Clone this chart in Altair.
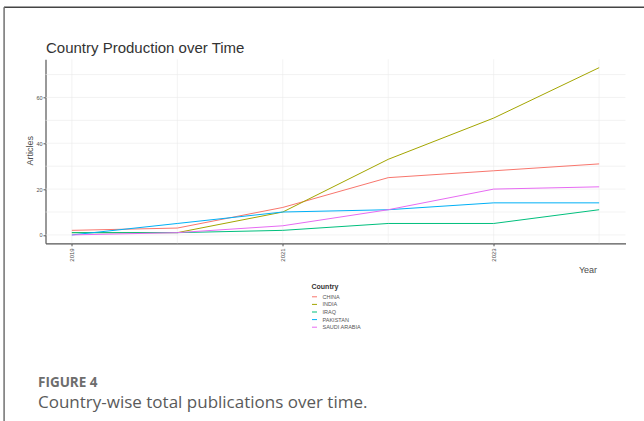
import altair as alt
import pandas as pd

# Articles per year for each country
years = [2019, 2020, 2021, 2022, 2023, 2024]
countries = ["CHINA", "INDIA", "IRAQ", "PAKISTAN", "SAUDI ARABIA"]
china = [2, 3, 12, 25, 28, 31]
india = [1, 1, 10, 33, 51, 73]
iraq = [1, 1, 2, 5, 5, 11]
pakistan = [0, 5, 10, 11, 14, 14]
saudi_arabia = [0, 1, 4, 11, 20, 21]
palette = ["#F8766D", "#A3A500", "#00BF7D", "#00B0F6", "#E76BF3"]

# grid positions (major + minor)
y_grid = [0, 10, 20, 30, 40, 50, 60, 70]
x_grid = [2019, 2020, 2021, 2022, 2023, 2024]
y_ticks = [0, 20, 40, 60]
x_ticks = [2019, 2021, 2023]

series = [china, india, iraq, pakistan, saudi_arabia]
rows = []
for name, vals in zip(countries, series):
    for yr, v in zip(years, vals):
        rows.append({"Year": yr, "Articles": v, "Country": name})
df = pd.DataFrame(rows)

W, H = 580, 184
PAD_L, PAD_T = 45.5, 59.3
x_scale = alt.Scale(domain=[2018.75, 2024.25], nice=False, zero=False)
y_scale = alt.Scale(domain=[-3.65, 76.65], nice=False, zero=False)
FONT = "Liberation Sans"

x_axis = alt.Axis(
    values=x_ticks, format="d", grid=False, labelAngle=270,
    labelFontSize=6, labelColor="#4d4d4d", labelFont=FONT,
    labelAlign="right", labelBaseline="middle", labelPadding=2,
    tickSize=2.5, tickColor="#555555", domainColor="#555555",
    domainWidth=1.2, title="Year", titleFont=FONT, titleFontSize=9,
    titleFontWeight="normal", titleColor="#4d4d4d",
    titleX=542, titleY=22, titleAlign="center",
)
y_axis = alt.Axis(
    values=y_ticks, grid=False, labelFontSize=5.5,
    labelColor="#4d4d4d", labelFont=FONT, labelPadding=1,
    tickSize=2.5, tickColor="#555555", domainColor="#555555",
    domainWidth=1.2, title="Articles", titleFont=FONT,
    titleFontSize=9, titleFontWeight="normal", titleColor="#4d4d4d",
    titleX=-11, titleY=91, titleAlign="center", titleBaseline="bottom",
)

hgrid = alt.Chart(pd.DataFrame({"Articles": y_grid})).mark_rule(
    color="#ebebeb", strokeWidth=0.6
).encode(y=alt.Y("Articles:Q", scale=y_scale, axis=y_axis))

vgrid = alt.Chart(pd.DataFrame({"Year": x_grid})).mark_rule(
    color="#ebebeb", strokeWidth=0.6
).encode(x=alt.X("Year:Q", scale=x_scale, axis=x_axis))

lines = alt.Chart(df).mark_line(strokeWidth=1).encode(
    x=alt.X("Year:Q", scale=x_scale, axis=x_axis),
    y=alt.Y("Articles:Q", scale=y_scale, axis=y_axis),
    color=alt.Color(
        "Country:N",
        scale=alt.Scale(domain=countries, range=palette),
        legend=alt.Legend(
            orient="none", legendX=266, legendY=224, title="Country",
            titleFont=FONT, titleFontSize=7, titleFontWeight="bold",
            titleColor="#333333", titlePadding=3.5,
            labelFont=FONT, labelFontSize=5.5, labelColor="#555555",
            labelOffset=5, symbolType="stroke", symbolSize=25,
            symbolStrokeWidth=1, rowPadding=0.6,
        ),
    ),
)

# chart title, caption and page frame
def label(text, x, y, size, color, weight="normal", font=FONT):
    return alt.Chart(pd.DataFrame({"t": [text]})).mark_text(
        align="left", baseline="alphabetic", fontSize=size, color=color,
        fontWeight=weight, font=font,
    ).encode(text="t:N", x=alt.value(x), y=alt.value(y))

title = label("Country Production over Time", 0.5, -6.6, 15, "#333333")
fig_no = label("FIGURE 4", -7.5, 327.5, 13.5, "#6d6d6d", "bold", "Open Sans")
caption = label("Country-wise total publications over time.", -7.5, 349,
                17, "#5a5a5a", "normal", "Open Sans")

frame_top = alt.Chart(pd.DataFrame({"a": [0]})).mark_rect(
    color="#444444"
).encode(x=alt.value(-41.5), x2=alt.value(W + 30), y=alt.value(-52.8),
         y2=alt.value(-51.2))
frame_left = alt.Chart(pd.DataFrame({"a": [0]})).mark_rect(
    color="#7a7a7a"
).encode(x=alt.value(-42.2), x2=alt.value(-40.6), y=alt.value(-52),
         y2=alt.value(H + 190))

chart = alt.layer(
    hgrid, vgrid, lines, title, fig_no, caption, frame_top, frame_left
).properties(
    width=W, height=H,
    padding={"left": PAD_L, "top": PAD_T, "right": 644 - PAD_L - W,
             "bottom": 421 - PAD_T - H},
    autosize=alt.AutoSizeParams(type="none"),
    background="white",
).configure_view(stroke=None)

chart.save("out.html", embed_options={"renderer": "svg", "actions": False})
